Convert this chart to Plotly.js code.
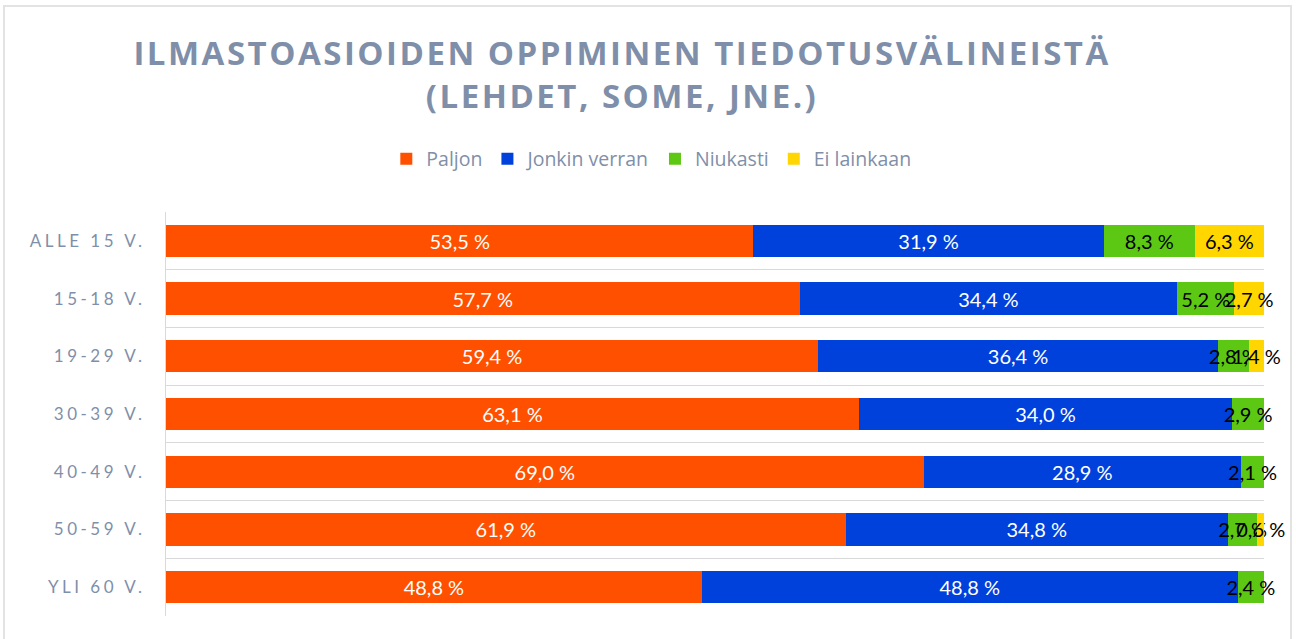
<!DOCTYPE html>
<html><head><meta charset="utf-8">
<script src="https://cdn.plot.ly/plotly-3.0.1.min.js"></script>
<style>
body{margin:0;background:#fff;}
#wrap{position:relative;width:1296px;height:639px;}
#frame{position:absolute;left:3px;top:5px;width:1289px;height:640px;border:2px solid #e3e3e3;box-sizing:border-box;pointer-events:none;}
#chart{width:1296px;height:639px;}
.gtitle{letter-spacing:2.5px;}
.ytick text{letter-spacing:3.5px;}
</style></head>
<body><div id="wrap"><div id="chart"></div><div id="frame"></div></div>
<script>
const categories = ["ALLE 15 V.", "15-18 V.", "19-29 V.", "30-39 V.", "40-49 V.", "50-59 V.", "YLI 60 V."];
const paljon = [53.5, 57.7, 59.4, 63.1, 69.0, 61.9, 48.8];
const jonkinVerran = [31.9, 34.4, 36.4, 34.0, 28.9, 34.8, 48.8];
const niukasti = [8.3, 5.2, 2.8, 2.9, 2.1, 2.7, 2.4];
const eiLainkaan = [6.3, 2.7, 1.4, 0.0, 0.0, 0.6, 0.0];
const seriesNames = ["Paljon", "Jonkin verran", "Niukasti", "Ei lainkaan"];
const colors = ["#FF5000", "#0041DC", "#5DC814", "#FFD600"];
const textColors = ["#ffffff", "#ffffff", "#000000", "#000000"];
const fmt = v => v.toFixed(1).replace('.', ',') + ' %';
const data = [paljon, jonkinVerran, niukasti, eiLainkaan].map((vals, i) => ({
  type: 'bar', orientation: 'h', name: seriesNames[i],
  x: vals, y: categories,
  marker: {color: colors[i]},
  text: vals.map(fmt), textposition: 'inside', insidetextanchor: 'middle', textangle: 0,
  textfont: {family: 'Lato, sans-serif', size: 20, color: textColors[i]},
  constraintext: 'none', cliponaxis: false, hoverinfo: 'skip'
}));
const layout = {
  width: 1296, height: 639,
  margin: {l: 166, r: 32, t: 212, b: 23},
  barmode: 'stack', bargap: 0.44,
  paper_bgcolor: '#ffffff', plot_bgcolor: '#ffffff',
  uniformtext: {mode: 'show', minsize: 20},
  title: {text: 'ILMASTOASIOIDEN OPPIMINEN TIEDOTUSVÄLINEISTÄ<br>(LEHDET, SOME, JNE.)',
    font: {family: 'Open Sans, sans-serif', size: 33, color: '#7F8FA9', weight: 'bold'},
    x: 0.48, xanchor: 'center', xref: 'container', y: 0.898, yanchor: 'middle', yref: 'container'},
  showlegend: true,
  legend: {orientation: 'h', x: 0.442, xanchor: 'center', y: 1.131, yanchor: 'middle',
    font: {family: 'Open Sans, sans-serif', size: 19.5, color: '#7F8FA9'}, traceorder: 'normal',
    itemwidth: 30},
  xaxis: {range: [0, 100], visible: false, fixedrange: true},
  yaxis: {type: 'category', autorange: 'reversed', tickson: 'boundaries',
    showgrid: true, gridcolor: '#D9D9D9', gridwidth: 1,
    showline: true, linecolor: '#D9D9D9', linewidth: 1,
    ticks: '', ticklabelstandoff: 16,
    tickfont: {family: 'Lato, sans-serif', size: 17, color: '#7F8FA9'}}
};
Plotly.newPlot('chart', data, layout, {staticPlot: true});
</script></body></html>
